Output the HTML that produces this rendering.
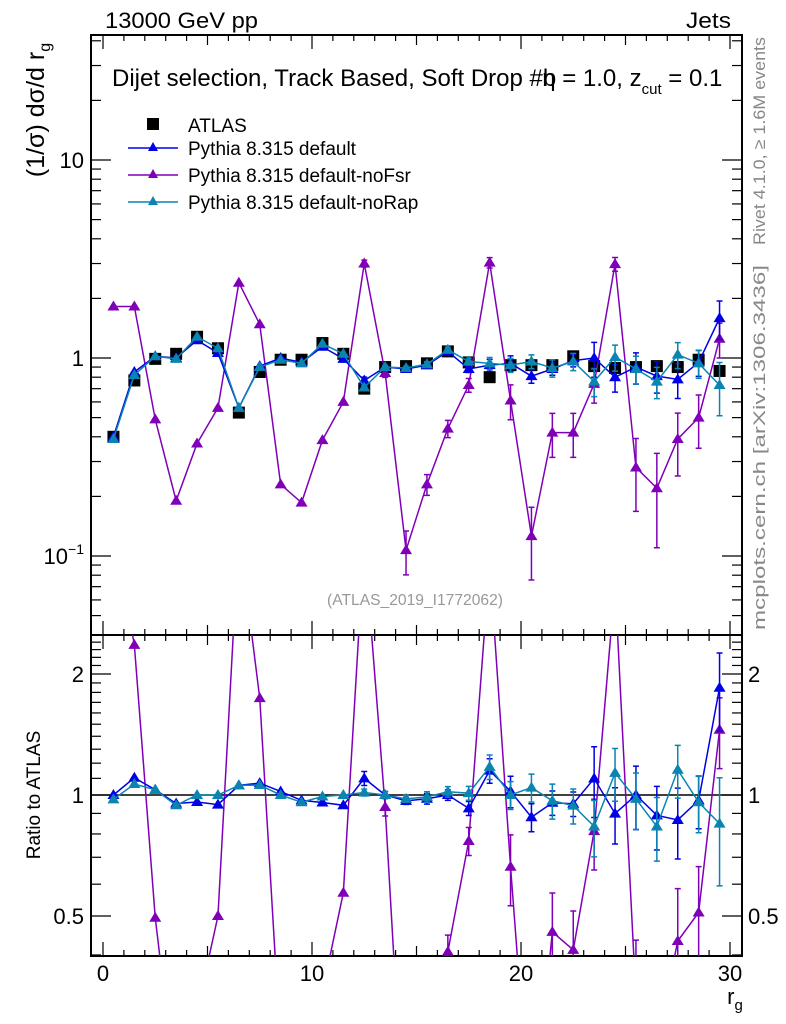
<!DOCTYPE html>
<html><head><meta charset="utf-8"><style>
html,body{margin:0;padding:0;background:#fff;width:786px;height:1024px;overflow:hidden;}
svg{display:block;font-family:"Liberation Sans",sans-serif;}
</style></head><body>
<svg id="chart" width="786" height="1024" viewBox="0 0 786 1024" xmlns="http://www.w3.org/2000/svg">
<defs>
<clipPath id="clipMain"><rect x="91" y="35" width="651" height="600"/></clipPath>
<clipPath id="clipRatio"><rect x="91" y="635" width="651" height="321"/></clipPath>
</defs>
<rect x="91" y="35" width="651" height="600" fill="none" stroke="#000" stroke-width="2"/>
<rect x="91" y="635" width="651" height="321" fill="none" stroke="#000" stroke-width="2"/>
<g id="axes"></g>
<g id="marks"></g>
<text x="105" y="28" font-size="22" textLength="153" lengthAdjust="spacingAndGlyphs">13000 GeV pp</text>
<text x="686" y="28" font-size="22" textLength="45" lengthAdjust="spacingAndGlyphs">Jets</text>
<text x="112" y="86" font-size="24">Dijet selection, Track Based, Soft Drop #b<tspan dx="-14">η = 1.0, z</tspan><tspan font-size="15" dy="8">cut</tspan><tspan dy="-8"> = 0.1</tspan></text>
<text transform="translate(44,110) rotate(-90)" font-size="25" text-anchor="middle">(1/σ) dσ/d r<tspan font-size="16" dy="6">g</tspan></text>
<text transform="translate(40,795) rotate(-90)" font-size="19" text-anchor="middle">Ratio to ATLAS</text>
<text x="735" y="1004" font-size="22" text-anchor="middle">r<tspan font-size="15" dy="6">g</tspan></text>
<text x="327" y="605" font-size="16" fill="#999" textLength="176" lengthAdjust="spacingAndGlyphs">(ATLAS_2019_I1772062)</text>
<text transform="translate(765,245) rotate(-90)" font-size="17" fill="#888" textLength="208" lengthAdjust="spacingAndGlyphs">Rivet 4.1.0, ≥ 1.6M events</text>
<text transform="translate(765,630) rotate(-90)" font-size="17" fill="#888" textLength="365" lengthAdjust="spacingAndGlyphs">mcplots.cern.ch [arXiv:1306.3436]</text>
<g>
<rect x="147" y="118" width="12" height="12" fill="#000"/>
<text x="188" y="132" font-size="19">ATLAS</text>
<line x1="128" x2="178" y1="148" y2="148" stroke="#0000e6" stroke-width="1.5"/>
<path d="M153,142 l5,9 h-10z" fill="#0000e6"/>
<text x="188" y="155" font-size="19">Pythia 8.315 default</text>
<line x1="128" x2="178" y1="175" y2="175" stroke="#8000b8" stroke-width="1.5"/>
<path d="M153,169 l5,9 h-10z" fill="#8000b8"/>
<text x="188" y="182" font-size="19">Pythia 8.315 default-noFsr</text>
<line x1="128" x2="178" y1="202" y2="202" stroke="#0a84b0" stroke-width="1.5"/>
<path d="M153,196 l5,9 h-10z" fill="#0a84b0"/>
<text x="188" y="209" font-size="19">Pythia 8.315 default-noRap</text>
</g>
</svg>
<script>
const bins = [0.5,1.5,2.5,3.5,4.5,5.5,6.5,7.5,8.5,9.5,10.5,11.5,12.5,13.5,14.5,15.5,16.5,17.5,18.5,19.5,20.5,21.5,22.5,23.5,24.5,25.5,26.5,27.5,28.5,29.5];
const atlas = [0.40,0.77,0.99,1.05,1.28,1.12,0.53,0.85,0.98,0.98,1.19,1.05,0.70,0.90,0.91,0.94,1.08,0.95,0.80,0.92,0.92,0.92,1.02,0.91,0.89,0.90,0.91,0.90,0.98,0.86];
const pyDefault = [0.40,0.85,1.02,1.00,1.23,1.06,0.56,0.91,1.00,0.95,1.14,0.99,0.77,0.90,0.88,0.92,1.08,0.88,0.92,0.94,0.81,0.88,0.97,1.00,0.80,0.90,0.81,0.78,0.95,1.59];
const pyNoFsr = [1.82,1.82,0.49,0.19,0.37,0.56,2.40,1.48,0.23,0.186,0.385,0.60,3.00,0.84,0.107,0.23,0.44,0.73,3.03,0.61,0.126,0.42,0.42,0.74,2.98,0.28,0.22,0.39,0.50,1.25];
const pyNoRap = [0.39,0.82,1.02,0.99,1.28,1.12,0.56,0.90,0.98,0.94,1.18,1.05,0.71,0.90,0.89,0.93,1.10,0.96,0.94,0.92,0.96,0.89,0.96,0.76,1.01,0.88,0.76,1.04,0.94,0.73];
const errDefault = [0,0,0,0,0,0,0,0,0,0,0,0,0.04,0.02,0.02,0.03,0.03,0.04,0.07,0.09,0.08,0.07,0.07,0.20,0.16,0.18,0.18,0.20,0.15,0.22];
const errNoFsr = [0,0,0,0,0,0,0,0,0,0,0,0,0.04,0.05,0.25,0.12,0.10,0.08,0.06,0.20,0.40,0.25,0.25,0.20,0.08,0.40,0.50,0.35,0.30,0.20];
const errNoRap = [0,0,0,0,0,0,0,0,0,0,0,0,0.02,0.02,0.02,0.03,0.03,0.04,0.07,0.08,0.08,0.10,0.10,0.16,0.15,0.16,0.18,0.15,0.16,0.30];
const mainTicks = [0.1,1,10];
const ratioTicks = [0.5,1,2];
const xTicks = [0,10,20,30];

const NS = "http://www.w3.org/2000/svg";
const X = v => 103 + v*20.9;
const Y = v => 358 - Math.log10(v)*198;
const YR = v => 795 - Math.log10(v)*402;
const axes = document.getElementById('axes');
const marks = document.getElementById('marks');
function mk(tag, attrs, parent){const e=document.createElementNS(NS,tag);for(const k in attrs)e.setAttribute(k,attrs[k]);parent.appendChild(e);return e;}

for(let v=0; v<=30; v++){
  const len = v%10===0?14:(v%5===0?10:6);
  [[35,1],[635,-1],[635,1],[956,-1]].forEach(([y,d])=>{
    const t=mk('line',{x1:X(v),x2:X(v),y1:y,y2:y+d*len,stroke:'#000','stroke-width':1.2},axes);
    
    
  });
}
xTicks.forEach(v=>{
  const t=mk('text',{x:X(v),y:981,'font-size':22,'text-anchor':'middle'},axes);
  t.textContent=v;
  
  
});
for(let d=-2; d<=1; d++){
  for(let m=1;m<10;m++){
    const v=m*Math.pow(10,d); const y=Y(v);
    if(y<35||y>635) continue;
    const len=m===1?20:10;
    [[91,1],[742,-1]].forEach(([x,s])=>{
      const t=mk('line',{x1:x,x2:x+s*len,y1:y,y2:y,stroke:'#000','stroke-width':1.2},axes);
      
      
    });
  }
}
mainTicks.forEach(v=>{
  const t=mk('text',{x:84,y:Y(v)+8,'font-size':22,'text-anchor':'end'},axes);
  if(v===0.1){t.innerHTML='10<tspan font-size="14" dy="-10">−1</tspan>';}
  else t.textContent=v;
  
  
});
for(let v=0.4; v<=2.55; v+=0.1){
  const y=YR(v); if(y<635||y>956) continue;
  const major=Math.abs(v-0.5)<1e-6||Math.abs(v-1)<1e-6||Math.abs(v-2)<1e-6;
  [[91,1],[742,-1]].forEach(([x,s])=>{
    const t=mk('line',{x1:x,x2:x+s*(major?20:10),y1:y,y2:y,stroke:'#000','stroke-width':1.2},axes);
    
    
  });
}
ratioTicks.forEach(v=>{
  const t=mk('text',{x:84,y:YR(v)+8,'font-size':22,'text-anchor':'end'},axes);
  t.textContent=v;
  
  
  const t2=mk('text',{x:748,y:YR(v)+8,'font-size':22},axes);
  t2.textContent=v;
  
  
});
const ref=mk('line',{x1:91,x2:742,y1:YR(1),y2:YR(1),stroke:'#000','stroke-width':1.5},axes);



function series(vals, errs, color, name, yf, clip){
  const g=mk('g',{'clip-path':'url(#'+clip+')'},marks);
  
  
  const pts=vals.map((v,i)=>X(bins[i])+','+yf(v)).join(' ');
  const pl=mk('polyline',{points:pts,fill:'none',stroke:color,'stroke-width':1.5},g);
  
  
  vals.forEach((v,i)=>{
    const x=X(bins[i]), y=yf(v);
    if(errs[i]>0){
      const lo=yf(v*(1-Math.min(errs[i],0.9))), hi=yf(v*(1+errs[i]));
      const e=mk('path',{d:`M${x},${lo}V${hi}M${x-3},${lo}h6M${x-3},${hi}h6`,stroke:color,'stroke-width':1.5,fill:'none'},g);
      
      
    }
    const m=mk('path',{d:`M${x},${y-6} l6,10 h-12z`,fill:color},g);
    
    
  });
}
atlas.forEach((v,i)=>{
  const r=mk('rect',{x:X(bins[i])-6,y:Y(v)-6,width:12,height:12,fill:'#000'},marks);
  
  
});
const cols={d:'#0000e6',f:'#8000b8',r:'#0a84b0'};
series(pyNoFsr,errNoFsr,cols.f,'nofsr-series',Y,'clipMain');
series(pyDefault,errDefault,cols.d,'default-series',Y,'clipMain');
series(pyNoRap,errNoRap,cols.r,'norap-series',Y,'clipMain');
series(pyNoFsr.map((v,i)=>v/atlas[i]),errNoFsr,cols.f,'nofsr-ratio',YR,'clipRatio');
series(pyDefault.map((v,i)=>v/atlas[i]),errDefault,cols.d,'default-ratio',YR,'clipRatio');
series(pyNoRap.map((v,i)=>v/atlas[i]),errNoRap,cols.r,'norap-ratio',YR,'clipRatio');
</script>
</body></html>
